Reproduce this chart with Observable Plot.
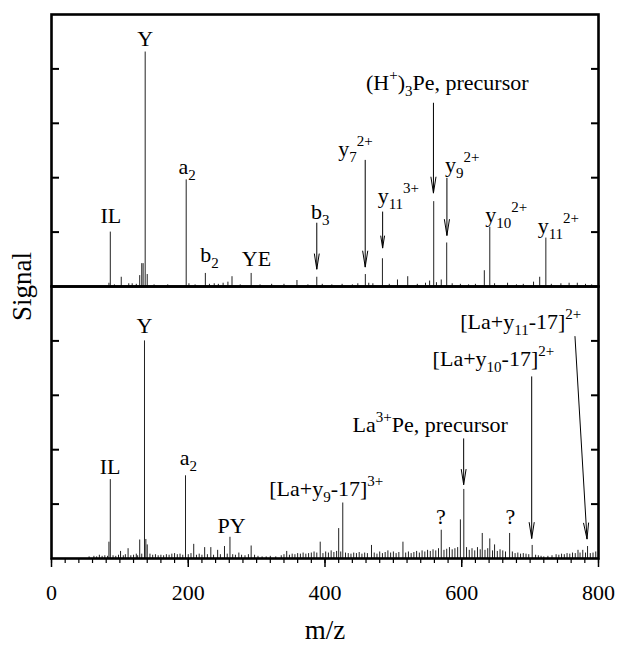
<!DOCTYPE html>
<html><head><meta charset="utf-8">
<script src="https://cdn.jsdelivr.net/npm/d3@7"></script>
<script src="https://cdn.jsdelivr.net/npm/@observablehq/plot@0.6"></script>
<style>
html,body{margin:0;padding:0;background:#fff;}
#chart{width:617px;height:645px;}
</style></head><body><div id="chart"></div>
<script>
// ---- data ----
const panels = ["top", "bottom"];
const xTicks = [0, 200, 400, 600, 800];
const yTicks = [1, 2, 3, 4];

// top spectrum: (H+)3Pe
const topMz = [84,86,92,102,113,118,124,129,132,134,137,140,150,170,197,201,210,225,231,238,244,251,258,264,276,292,305,322,340,359,375,388,396,410,425,440,448,459,464,470,484,494,506,521,535,547,553,559,563,570,578,586,598,610,620,633,641,648,667,680,690,705,714,723,731,745,757,769,781,790];
const topSignal = [0.06,1.0,0.03,0.17,0.05,0.05,0.04,0.2,0.42,0.42,4.31,0.22,0.03,0.03,1.96,0.05,0.03,0.24,0.04,0.05,0.04,0.06,0.08,0.18,0.03,0.24,0.03,0.04,0.04,0.11,0.03,0.17,0.04,0.03,0.04,0.03,0.05,0.22,0.06,0.05,0.51,0.04,0.12,0.18,0.04,0.06,0.1,1.56,0.07,0.12,0.8,0.05,0.04,0.03,0.04,0.29,1.09,0.05,0.06,0.03,0.04,0.08,0.17,0.89,0.04,0.05,0.06,0.06,0.04,0.03];

// bottom spectrum: La3+Pe
const bottomMz = [55,62,66,70,74,78,82,84,86,90,94,98,101,105,108,112,116,120,124,126,129,132,136,138,140,144,148,152,156,160,164,168,172,176,180,184,188,192,196,200,204,208,212,216,220,224,228,233,237,243,247,253,257,261,265,269,274,278,283,288,292,297,302,308,314,320,328,336,340,344,348,352,356,360,364,368,372,376,380,384,388,393,397,401,405,409,413,417,420,423,426,430,434,438,442,446,450,454,458,462,468,472,476,480,484,488,492,496,500,504,508,514,518,522,526,530,534,538,542,546,550,554,558,562,566,570,574,578,582,586,590,594,598,603,607,611,615,619,623,627,630,634,638,641,645,648,652,656,660,664,670,674,678,682,686,690,694,698,703,708,712,716,720,726,732,738,742,746,750,754,758,762,766,770,773,777,781,784,788,792,796];
const bottomSignal = [0.03,0.04,0.03,0.06,0.04,0.05,0.04,0.3,1.45,0.05,0.04,0.06,0.13,0.05,0.07,0.18,0.05,0.06,0.08,0.05,0.34,0.08,4.0,0.35,0.25,0.08,0.06,0.07,0.05,0.06,0.05,0.07,0.06,0.08,0.09,0.07,0.08,0.06,1.52,0.07,0.09,0.26,0.06,0.08,0.06,0.2,0.07,0.2,0.06,0.15,0.07,0.22,0.08,0.39,0.07,0.06,0.1,0.06,0.05,0.07,0.23,0.06,0.04,0.03,0.03,0.04,0.03,0.05,0.07,0.13,0.06,0.08,0.07,0.09,0.08,0.1,0.08,0.09,0.1,0.12,0.1,0.3,0.09,0.12,0.1,0.14,0.11,0.13,0.55,0.12,1.02,0.1,0.09,0.08,0.1,0.09,0.11,0.08,0.1,0.09,0.24,0.1,0.08,0.12,0.09,0.11,0.14,0.1,0.12,0.09,0.11,0.3,0.1,0.12,0.09,0.11,0.13,0.1,0.14,0.12,0.15,0.13,0.16,0.14,0.18,0.52,0.15,0.17,0.2,0.16,0.18,0.2,0.71,1.27,0.2,0.15,0.18,0.14,0.2,0.16,0.46,0.15,0.18,0.36,0.14,0.25,0.13,0.16,0.14,0.12,0.46,0.12,0.09,0.1,0.08,0.09,0.08,0.07,0.24,0.06,0.05,0.04,0.03,0.04,0.05,0.07,0.06,0.08,0.07,0.09,0.08,0.1,0.09,0.15,0.1,0.15,0.1,0.22,0.09,0.1,0.12];

// annotations (text baseline anchored at mz / signal)
const labelPanel = ["top","top","top","top","top","top","top","top","top","top","top","top",
  "bottom","bottom","bottom","bottom","bottom","bottom","bottom","bottom","bottom","bottom"];
const labelText = ["Y","IL","a_{2}","b_{2}","YE","b_{3}","y_{7}^{2+}","y_{11}^{3+}","(H^{+})_{3}Pe, precursor","y_{9}^{2+}","y_{10}^{2+}","y_{11}^{2+}",
  "Y","IL","a_{2}","PY","[La+y_{9}-17]^{3+}","?","?","La^{3+}Pe, precursor","[La+y_{10}-17]^{2+}","[La+y_{11}-17]^{2+}"];
const labelMz = [137,86.8,185.8,217.4,278.4,379.4,419.4,477,459.9,575.4,634.4,711,
  136,85.8,187.7,242.9,318.4,569.6,671,440.4,557.4,597.8];
const labelSignal = [4.43,1.165,2.06,0.455,0.38,1.25,2.39,1.54,3.62,2.11,1.19,0.99,
  4.14,1.55,1.71,0.47,1.15,0.64,0.64,2.33,3.54,4.21];
const labelAnchor = ["middle","middle","start","start","start","start","start","start","start","start","start","start",
  "middle","middle","start","start","start","middle","middle","start","start","start"];

const arrowPanel = ["top","top","top","top","top","bottom","bottom","bottom"];
const arrowMz1 = [388,458.8,484.3,558.6,578.3,602.8,702.3,765.6];
const arrowSig1 = [1.165,2.32,1.37,3.37,1.99,2.2,3.34,4.08];
const arrowMz2 = [388,458.8,484.3,558.6,578.3,602.8,702.3,783.2];
const arrowSig2 = [0.32,0.36,0.71,1.72,0.94,1.36,0.37,0.36];

// ---- tables ----
const peaks = [
  ...topMz.map((mz, i) => ({panel: "top", mz, signal: topSignal[i]})),
  ...bottomMz.map((mz, i) => ({panel: "bottom", mz, signal: bottomSignal[i]}))
];
const labels = labelText.map((text, i) => ({panel: labelPanel[i], text, mz: labelMz[i], signal: labelSignal[i], anchor: labelAnchor[i]}));
const arrows = arrowPanel.map((panel, i) => ({panel, x1: arrowMz1[i], y1: arrowSig1[i], x2: arrowMz2[i], y2: arrowSig2[i]}));

const serif = "'Liberation Serif', 'Times New Roman', serif";

const plot = Plot.plot({
  width: 617, height: 645,
  marginLeft: 51, marginRight: 19, marginTop: 14, marginBottom: 87,
  style: {fontFamily: serif, fontSize: "22px", color: "#000", background: "#fff", overflow: "visible"},
  x: {domain: [0, 800]},
  y: {domain: [0, 5]},
  fy: {domain: panels, padding: 0, axis: null},
  marks: [
    Plot.ruleX(peaks, {x: "mz", y: "signal", fy: "panel", stroke: "#222", strokeWidth: 1}),
    Plot.arrow(arrows, {x1: "x1", y1: "y1", x2: "x2", y2: "y2", fy: "panel", stroke: "#000", strokeWidth: 1, headLength: 24, headAngle: 18}),
    Plot.text(labels.filter(d => d.anchor === "start"), {x: "mz", y: "signal", fy: "panel", text: "text", textAnchor: "start", lineAnchor: "bottom", fontSize: 22, fill: "#000"}),
    Plot.text(labels.filter(d => d.anchor === "middle"), {x: "mz", y: "signal", fy: "panel", text: "text", textAnchor: "middle", lineAnchor: "bottom", fontSize: 22, fill: "#000"}),
    Plot.frame({stroke: "#000", strokeWidth: 2.6}),
    Plot.axisY({anchor: "left", ticks: yTicks, tickSize: -8, tickFormat: () => "", label: null, strokeWidth: 2}),
    Plot.axisY({anchor: "right", ticks: yTicks, tickSize: -8, tickFormat: () => "", label: null, strokeWidth: 2}),
    Plot.axisX({ticks: xTicks, tickSize: 9, tickPadding: 17, fontSize: 22, label: null, strokeWidth: 1.5}),
    Plot.axisX({interval: 20, tickSize: 5, tickFormat: () => "", label: null, strokeWidth: 1.2}),
    Plot.text(["m/z"], {fy: ["bottom"], frameAnchor: "bottom", dy: 80, lineAnchor: "bottom", fontSize: 27, fill: "#000"}),
    Plot.text(["Signal"], {fy: ["top"], frameAnchor: "bottom-left", dx: -29, rotate: -90, textAnchor: "middle", lineAnchor: "middle", fontSize: 27, fill: "#000"})
  ]
});

// rich text: _{sub} and ^{sup}
const NS = "http://www.w3.org/2000/svg";
const SUB_DY = 6, SUP_DY = -10, SCRIPT_SIZE = 15;
plot.querySelectorAll("text").forEach(el => {
  const s = el.textContent;
  if (!/[_^]\{/.test(s)) return;
  el.textContent = "";
  const re = /([_^])\{([^}]*)\}|([^_^]+)/g;
  let shift = 0, m;
  while ((m = re.exec(s))) {
    const t = document.createElementNS(NS, "tspan");
    let target;
    if (m[3] !== undefined) { target = 0; t.textContent = m[3]; }
    else { target = m[1] === "_" ? SUB_DY : SUP_DY; t.textContent = m[2]; t.setAttribute("font-size", SCRIPT_SIZE); }
    t.setAttribute("dy", target - shift);
    shift = target;
    el.appendChild(t);
  }
});

document.getElementById("chart").appendChild(plot);
</script></body></html>
